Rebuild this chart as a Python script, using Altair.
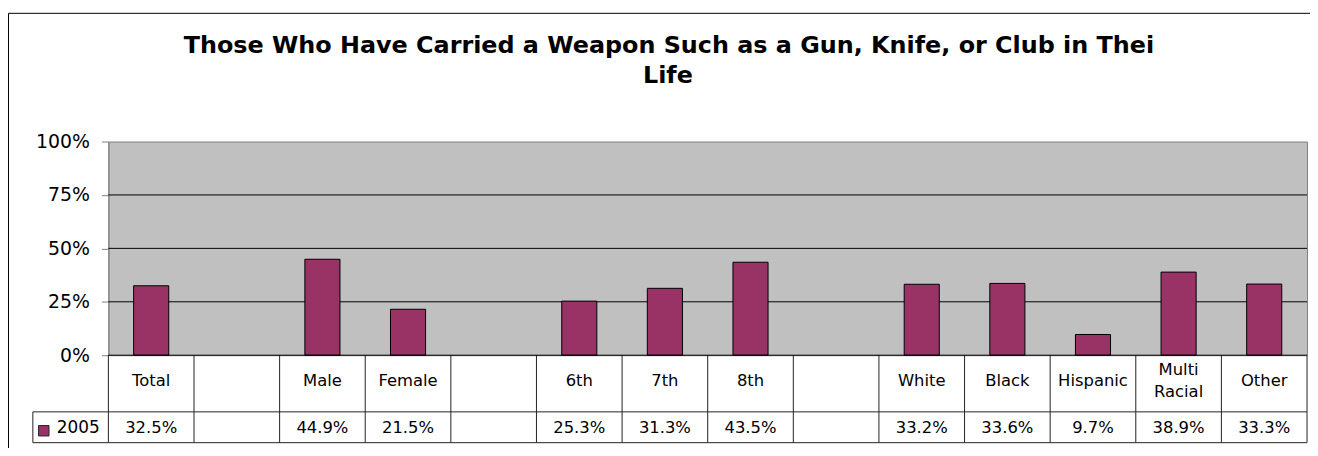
import altair as alt
import pandas as pd

title_lines = ["Those Who Have Carried a Weapon Such as a Gun, Knife, or Club in Thei", "Life"]
cat_keys = ["Total", "b1", "Male", "Female", "b2", "6th", "7th", "8th", "b3",
            "White", "Black", "Hispanic", "Multi Racial", "Other"]
cat_labels = ["Total", "", "Male", "Female", "", "6th", "7th", "8th", "",
              "White", "Black", "Hispanic", "Multi\nRacial", "Other"]
bar_cats = ["Total", "Male", "Female", "6th", "7th", "8th",
            "White", "Black", "Hispanic", "Multi Racial", "Other"]
values = [32.5, 44.9, 21.5, 25.3, 31.3, 43.5, 33.2, 33.6, 9.7, 38.9, 33.3]
series = ["2005"]
y_ticks = [0, 25, 50, 75, 100]
grid_vals = [25, 50, 75]

FONT = "DejaVu Sans"
W, H = 1206, 215
BAR = "#993366"

df_bars = pd.DataFrame({"cat": bar_cats, "value": values})
df_cells = pd.DataFrame({"cat": cat_keys, "label": cat_labels})
df_grid = pd.DataFrame({"g": grid_vals})

xscale = alt.Scale(domain=cat_keys, paddingInner=0, paddingOuter=0)
yscale = alt.Scale(domain=[0, 100], nice=False)

bars = alt.Chart(df_bars).mark_bar(color=BAR, stroke="black", strokeWidth=1,
                                   width=alt.RelativeBandSize(0.41)).encode(
    x=alt.X("cat:N", scale=xscale, axis=None, sort=cat_keys),
    y=alt.Y("value:Q", scale=yscale, title=None,
            axis=alt.Axis(values=y_ticks, labelExpr="datum.value + '%'", grid=False,
                          domainColor="#808080", tickColor="#808080", tickSize=7,
                          labelPadding=12, labelFontSize=19, labelFont=FONT,
                          labelColor="black")),
)

grid = alt.Chart(df_grid).mark_rule(color="black", strokeWidth=1).encode(
    y=alt.Y("g:Q", scale=yscale),
    x=alt.value(0), x2=alt.value(W),
)

vlines = alt.Chart(df_cells).mark_rule(color="#222222", strokeWidth=1).encode(
    x=alt.X("cat:N", scale=xscale, sort=cat_keys, bandPosition=0),
    y=alt.value(H), y2=alt.value(303),
)

one = pd.DataFrame({"s": series})

def hrule(x1, x2, y, color="#222222"):
    return alt.Chart(one).mark_rule(color=color, strokeWidth=1).encode(
        x=alt.value(x1), x2=alt.value(x2), y=alt.value(y))

def vrule(x, y1, y2, color="#222222"):
    return alt.Chart(one).mark_rule(color=color, strokeWidth=1).encode(
        x=alt.value(x), y=alt.value(y1), y2=alt.value(y2))

table_lines = (hrule(0, W, H, "black") + hrule(-76, W, 272) + hrule(-76, W, 303)
               + vrule(W, H, 303) + vrule(-76, 272, 303))

border = hrule(-100.5, W + 10, -129, "black") + vrule(-100.5, -129, 310, "black")

def cat_layer(single, ypos):
    cond = "indexof(datum.label, '\\n') < 0" if single else "indexof(datum.label, '\\n') >= 0"
    return alt.Chart(df_cells).transform_filter(cond).mark_text(
        font=FONT, fontSize=16.5, color="black", baseline="middle",
        lineBreak="\n", lineHeight=22).encode(
        x=alt.X("cat:N", scale=xscale, sort=cat_keys),
        y=alt.value(ypos),
        text="label:N",
    )

cat_text = cat_layer(True, 240.7) + cat_layer(False, 229.7)

val_text = alt.Chart(df_bars).transform_calculate(
    lbl="format(datum.value, '.1f') + '%'"
).mark_text(font=FONT, fontSize=16.5, color="black", baseline="middle").encode(
    x=alt.X("cat:N", scale=xscale, sort=cat_keys),
    y=alt.value(288),
    text="lbl:N",
)

legend_sq = alt.Chart(one).mark_square(size=110, color=BAR, stroke="#222222",
                                       strokeWidth=1, opacity=1).encode(
    x=alt.value(-65), y=alt.value(291))
legend_txt = alt.Chart(one).mark_text(font=FONT, fontSize=17, align="left",
                                      baseline="middle", color="black").encode(
    x=alt.value(-52), y=alt.value(288.5), text="s:N")

t1 = alt.Chart(pd.DataFrame({"t": [title_lines[0]]})).mark_text(
    font=FONT, fontSize=24, fontWeight="bold", color="black", baseline="middle").encode(
    x=alt.value(564), y=alt.value(-96.5), text="t:N")
t2 = alt.Chart(pd.DataFrame({"t": [title_lines[1]]})).mark_text(
    font=FONT, fontSize=24, fontWeight="bold", color="black", baseline="middle").encode(
    x=alt.value(563), y=alt.value(-65.5), text="t:N")

chart = alt.layer(grid, bars, vlines, table_lines, border, cat_text, val_text,
                  legend_sq, legend_txt, t1, t2).properties(
    width=W, height=H,
    autosize=alt.AutoSizeParams(type="none"),
    padding={"left": 101, "top": 133, "right": 3, "bottom": 92},
).configure_view(fill="#C0C0C0", stroke="#808080", strokeWidth=1)

chart.save("out.html", embed_options={"renderer": "svg", "actions": False})
